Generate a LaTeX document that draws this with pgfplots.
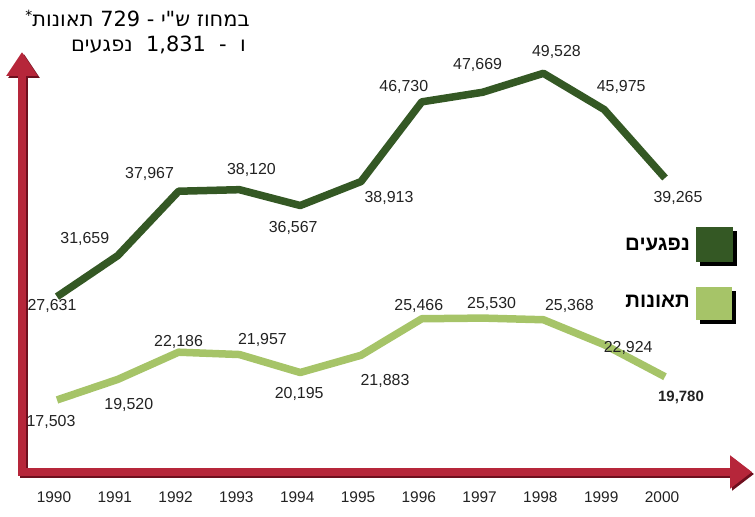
\documentclass[border=0pt]{standalone}
\usepackage{pgfplots}
\pgfplotsset{compat=1.18}
\usepackage{fontspec}
\setmainfont{Liberation Sans}
\newfontfamily\heb[Script=Hebrew]{Liberation Sans}
\newfontfamily\hebw[Script=Hebrew]{DejaVu Sans}
\TeXXeTstate=1
\usetikzlibrary{arrows.meta}
\definecolor{darkg}{RGB}{52,88,36}
\definecolor{lightg}{RGB}{166,196,104}
\definecolor{axred}{RGB}{182,38,58}
\definecolor{axshadow}{RGB}{110,15,30}
\definecolor{lbl}{RGB}{34,34,34}

\newcommand{\lab}[5]{\node[anchor=center, inner sep=0pt, text=lbl, font=\fontsize{16}{16}\selectfont, xshift=#3bp, yshift=#4bp] at (axis cs:#1,#2) {#5};}

\begin{document}
\begin{tikzpicture}[x=1bp,y=1bp]
\useasboundingbox (0,0) rectangle (755,517);
\begin{axis}[
  at={(22bp,45bp)}, anchor=south west,
  scale only axis, width=730bp, height=420bp,
  xmin=1989.4243, xmax=2001.431, ymin=10441, ymax=51618,
  clip=false, axis line style={draw=none},
  ytick=\empty, xtick={1990,1991,1992,1993,1994,1995,1996,1997,1998,1999,2000},
  xticklabels={1990,1991,1992,1993,1994,1995,1996,1997,1998,1999,2000},
  major tick length=0pt,
  xticklabel style={anchor=center, yshift=-25bp, xshift=-3bp, font=\fontsize{15.5}{15.5}\selectfont, text=lbl},
]
\draw[axshadow, line width=8bp, {Triangle[width=30bp,length=24bp]}-{Triangle[width=32bp,length=22bp]}]
  ([xshift=2bp,yshift=-2bp]rel axis cs:0,1) -- ([xshift=2bp,yshift=-2bp]rel axis cs:0,0) -- ([xshift=2bp,yshift=-2bp]rel axis cs:1,0);
\draw[axred, line width=8bp, {Triangle[width=30bp,length=24bp]}-{Triangle[width=32bp,length=22bp]}]
  (rel axis cs:0,1) -- (rel axis cs:0,0) -- (rel axis cs:1,0);

\addplot[darkg, line width=7.5bp, line join=round] coordinates {
 (1990,27631) (1991,31659) (1992,37967) (1993,38120) (1994,36567) (1995,38913)
 (1996,46730) (1997,47669) (1998,49528) (1999,45975) (2000,39265)};
\addplot[lightg, line width=7.5bp, line join=round] coordinates {
 (1990,17503) (1991,19520) (1992,22186) (1993,21957) (1994,20195) (1995,21883)
 (1996,25466) (1997,25530) (1998,25368) (1999,22924) (2000,19780)};

\lab{1990}{27631}{-5}{-9}{27,631}
\lab{1991}{31659}{-33}{17}{31,659}
\lab{1992}{37967}{-29}{17}{37,967}
\lab{1993}{38120}{12}{20}{38,120}
\lab{1994}{36567}{-7}{-22}{36,567}
\lab{1995}{38913}{28}{-16}{38,913}
\lab{1996}{46730}{-18}{15}{46,730}
\lab{1997}{47669}{-5}{27}{47,669}
\lab{1998}{49528}{13}{21}{49,528}
\lab{1999}{45975}{17}{23}{45,975}
\lab{2000}{39265}{13}{-20}{39,265}

\lab{1990}{17503}{-6}{-22}{17,503}
\lab{1991}{19520}{11}{-26}{19,520}
\lab{1992}{22186}{0}{10}{22,186}
\lab{1993}{21957}{23}{15}{21,957}
\lab{1994}{20195}{-1}{-21}{20,195}
\lab{1995}{21883}{24}{-26}{21,883}
\lab{1996}{25466}{-3}{13}{25,466}
\lab{1997}{25530}{9}{14}{25,530}
\lab{1998}{25368}{26}{14}{25,368}
\lab{1999}{22924}{24}{-3}{22,924}
\lab{2000}{19780}{16}{-21}{\bfseries\fontsize{15}{15}\selectfont 19,780}
\end{axis}

% legend
\fill[black] (700,251) rectangle (737,286);
\fill[darkg] (696,255) rectangle (733,290);
\fill[black] (700,193) rectangle (736,226);
\fill[lightg] (696,197) rectangle (732,230);
\node[anchor=east, inner sep=0pt, font=\heb\bfseries\fontsize{20.5}{20.5}\selectfont] at (690,272) {\beginR נפגעים\endR};
\node[anchor=east, inner sep=0pt, font=\heb\bfseries\fontsize{20.5}{20.5}\selectfont] at (690,216) {\beginR תאונות\endR};

% note
\node[anchor=east, inner sep=0pt, font=\hebw\fontsize{21}{21}\selectfont] at (250,499)
  {\raisebox{6bp}{\fontsize{14}{14}\selectfont *}\beginR במחוז ש"י - \beginL 729\endL{} תאונות\endR};
\node[anchor=east, inner sep=0pt, font=\hebw\fontsize{21}{21}\selectfont] at (246,472)
  {\beginR ו\ \ -\ \  \beginL 1,831\endL{}\ \ נפגעים\endR};
\end{tikzpicture}
\end{document}
